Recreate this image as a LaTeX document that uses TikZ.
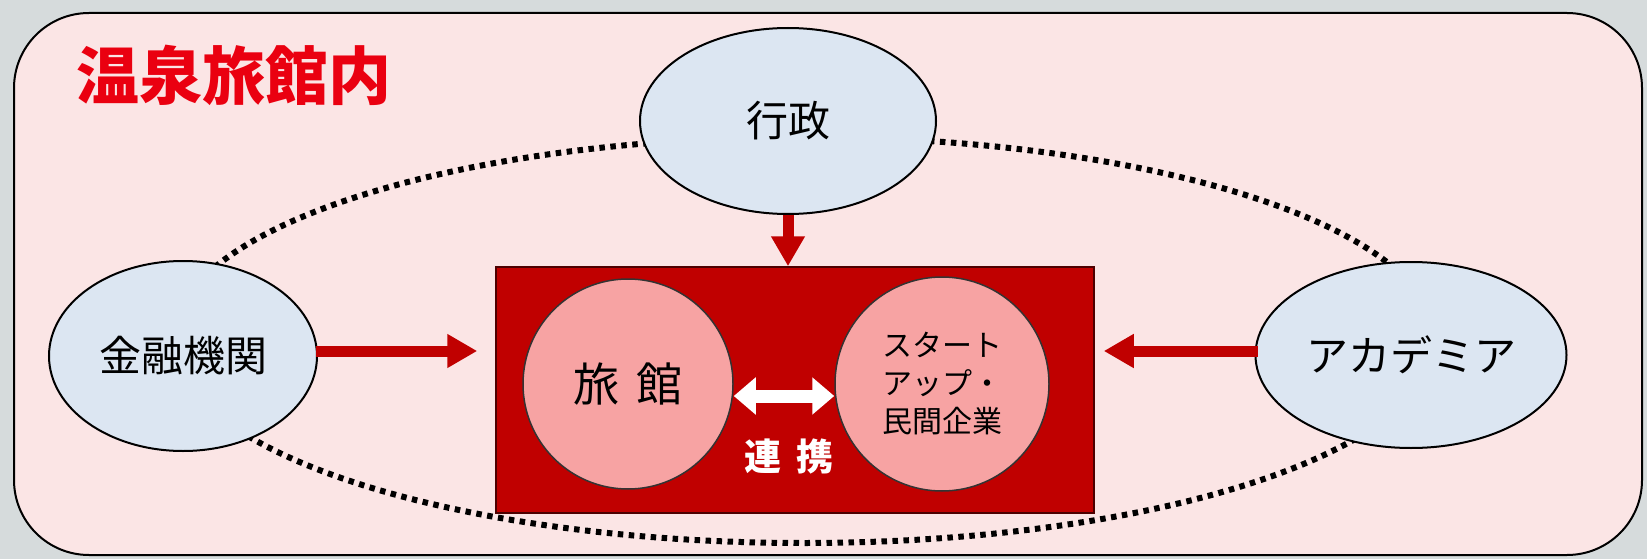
\documentclass[tikz,border=0pt]{standalone}
\usepackage{fontspec}
\setmainfont{Noto Sans CJK JP}
\usetikzlibrary{arrows.meta,shapes.geometric}
\definecolor{bggray}{HTML}{D6DBDC}
\definecolor{panel}{HTML}{FBE5E5}
\definecolor{bluefill}{HTML}{DCE6F2}
\definecolor{pinkfill}{HTML}{F7A3A3}
\definecolor{darkred}{HTML}{C00000}
\definecolor{titlered}{HTML}{EA0010}
\tikzset{
  actor/.style={ellipse,draw=black,line width=2pt,fill=bluefill,inner sep=0pt,font=\fontsize{42}{46}\selectfont},
  firm/.style={circle,draw=black!80,line width=1.5pt,fill=pinkfill,inner sep=0pt},
  dotline/.style={line width=6pt,dash pattern=on 5.5pt off 5.5pt,black},
  redarrow/.style={line width=11pt,darkred,-{Triangle[length=30pt,width=32pt]}},
  linkarrow/.style={line width=13pt,white,{Triangle[length=22pt,width=36pt]}-{Triangle[length=22pt,width=36pt]}}
}
\begin{document}
\begin{tikzpicture}[x=1pt,y=-1pt]
\useasboundingbox (0,0) rectangle (1647,559);
\fill[bggray] (0,0) rectangle (1647,559);
\draw[line width=2pt,fill=panel,rounded corners=75pt] (14,13) rectangle (1642,555);
\node[text=titlered,font=\fontsize{63}{66}\selectfont\bfseries] (title) at (234,75) {温泉旅館内};
\draw[dotline] (804,340) ellipse [x radius=631, y radius=203];
\node[actor,minimum width=296pt,minimum height=186pt] (gyosei) at (788,121) {行政};
\node[actor,minimum width=268pt,minimum height=190pt] (kin) at (183,356) {金融機関};
\node[actor,minimum width=311pt,minimum height=186pt] (aca) at (1411,355) {アカデミア};
\node[draw=black!60!darkred,line width=1.5pt,fill=darkred,minimum width=598pt,minimum height=246pt,inner sep=0pt] (rect) at (795,390) {};
\node[firm,minimum size=210pt,font=\fontsize{46}{50}\selectfont] (ryokan) at (628,384) {旅\hspace{0.35em}館};
\node[firm,minimum size=214pt,font=\fontsize{30}{38}\selectfont,align=left] (start) at (942,384) {スタート\\アップ・\\民間企業};
\node[text=white,font=\fontsize{37}{40}\selectfont\bfseries] (renkei) at (789,456) {連\hspace{0.4em}携};
\draw[linkarrow] (ryokan.east |- 0,396) -- (start.west |- 0,396);
\draw[redarrow] ([xshift=-2pt]kin.east |- 0,351) -- ([xshift=-18pt]rect.west |- 0,351);
\draw[redarrow] ([xshift=3pt]aca.west |- 0,351) -- ([xshift=9pt]rect.east |- 0,351);
\draw[line width=11pt,darkred,-{Triangle[length=30pt,width=32pt]}] (gyosei.south) -- (gyosei.south |- rect.north);
\end{tikzpicture}
\end{document}
